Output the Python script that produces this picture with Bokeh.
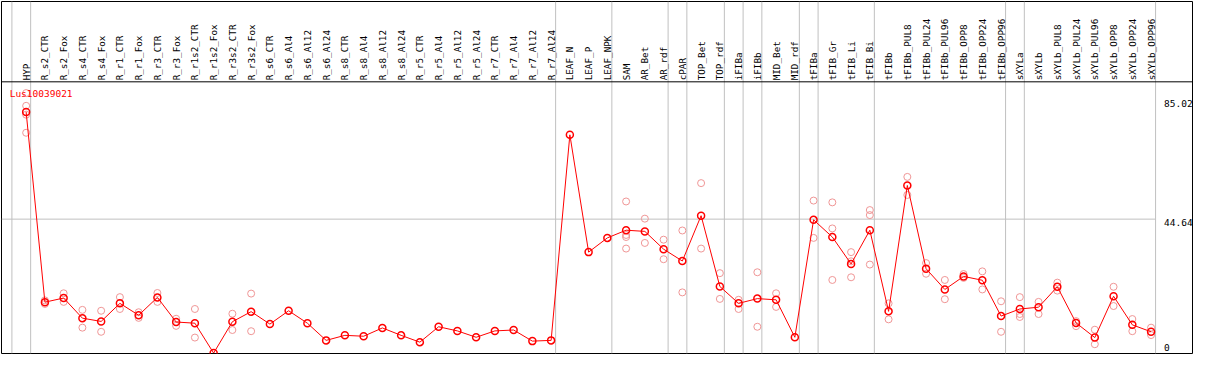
import math
from bokeh.plotting import figure
from bokeh.models import Range1d, Span
from bokeh.core.properties import value
from bokeh.embed import file_html
from bokeh.resources import INLINE

# ---------------- data ----------------
gene = "Lus10039021"

categories = [
    "HYP", "R_s2_CTR", "R_s2_Fox", "R_s4_CTR", "R_s4_Fox", "R_r1_CTR", "R_r1_Fox",
    "R_r3_CTR", "R_r3_Fox", "R_r1s2_CTR", "R_r1s2_Fox", "R_r3s2_CTR", "R_r3s2_Fox",
    "R_s6_CTR", "R_s6_Al4", "R_s6_Al12", "R_s6_Al24", "R_s8_CTR", "R_s8_Al4",
    "R_s8_Al12", "R_s8_Al24", "R_r5_CTR", "R_r5_Al4", "R_r5_Al12", "R_r5_Al24",
    "R_r7_CTR", "R_r7_Al4", "R_r7_Al12", "R_r7_Al24", "LEAF_N", "LEAF_P", "LEAF_NPK",
    "SAM", "AR_Bet", "AR_rdf", "cPAR", "TOP_Bet", "TOP_rdf", "iFIBa", "iFIBb",
    "MID_Bet", "MID_rdf", "tFIBa", "tFIB_Gr", "tFIB_Li", "tFIB_Bi", "tFIBb",
    "tFIBb_PUL8", "tFIBb_PUL24", "tFIBb_PUL96", "tFIBb_OPP8", "tFIBb_OPP24",
    "tFIBb_OPP96", "sXYLa", "sXYLb", "sXYLb_PUL8", "sXYLb_PUL24", "sXYLb_PUL96",
    "sXYLb_OPP8", "sXYLb_OPP24", "sXYLb_OPP96",
]

# number of consecutive categories in each tissue group (separated by grey lines)
group_sizes = [1, 28, 3, 3, 1, 2, 1, 1, 2, 1, 3, 7, 1, 7]

means = [
    80.8, 16.6, 18.0, 11.2, 10.1, 16.2, 12.2, 18.2, 9.9, 9.5, -0.6, 10.0, 13.4,
    9.2, 13.7, 9.5, 3.7, 5.4, 5.1, 7.9, 5.4, 3.1, 8.3, 6.9, 4.75, 6.9, 7.2, 3.45, 3.7,
    73.1, 33.5, 38.3, 40.9, 40.5, 34.5, 30.5, 45.8, 21.9, 16.2, 17.8, 17.4, 4.75,
    44.4, 38.6, 29.5, 40.9, 13.5, 56.0, 27.9, 20.9, 25.3, 24.0, 11.9,
    14.3, 14.9, 21.8, 9.6, 4.65, 18.6, 8.95, 6.6,
]

replicates = [
    [87.2, 82.9, 79.9, 73.8], [17.2, 16.0], [19.6, 16.7], [14.0, 8.0], [13.7, 6.6],
    [18.3, 14.3], [13.2, 11.3], [19.7, 16.7], [11.0, 8.6], [14.3, 4.65], [],
    [12.7, 7.2], [19.5, 6.8],
    [], [], [], [], [], [], [], [], [], [], [], [], [], [], [], [],
    [], [], [],
    [50.6, 39.3, 38.6, 34.7], [44.8, 36.6], [37.7, 31.1], [40.8, 19.9],
    [56.8, 34.7], [26.4, 17.7], [17.4, 14.3], [26.7, 8.3], [19.6, 15.0], [],
    [50.9, 38.3], [50.3, 41.5, 24.1], [33.5, 30.4, 25.0], [47.7, 46.0, 29.3],
    [16.2, 10.8], [58.9, 52.8], [29.8, 26.2], [24.1, 17.6], [26.1, 24.8],
    [27.0, 20.9], [16.9, 6.6], [18.3, 12.6, 11.6], [16.7, 12.6], [23.2, 20.5],
    [10.2, 8.5], [7.3, 2.4], [21.8, 15.3], [10.9, 6.8], [8.0, 5.5],
]

y_ticks = [0, 44.64, 85.02]
y_tick_labels = ["0", "44.64", "85.02"]

# ---------------- style ----------------
FONT = "DejaVu Sans Mono"
RED = "#ff0000"
PALE = "#f09696"
GREY = "#c0c0c0"

n = len(categories)
idx = list(range(n))

p = figure(width=1193, height=354, output_backend="svg", toolbar_location=None,
           x_axis_location=None, y_axis_location=None, title=None,
           x_range=Range1d(-1.315, 62.21), y_range=Range1d(-0.73, 118.12),
           min_border_left=1, min_border_right=1, min_border_top=1, min_border_bottom=1)
p.grid.visible = False
p.background_fill_color = "white"
p.border_fill_color = "white"
p.outline_line_color = "black"
p.outline_line_width = 1
p.outline_line_alpha = 1.0

# group separator lines (full height, through header)
sep = 0.24
bounds = [0]
for g in group_sizes:
    bounds.append(bounds[-1] + g)
sep_x = [b - 1 + sep for b in bounds]
for sx in sep_x:
    p.add_layout(Span(location=sx, dimension="height", line_color=GREY,
                      line_width=1, level="underlay"))
right_edge = sep_x[-1]

# horizontal grid line for interior ticks
inner = [t for t in y_ticks if y_ticks[0] < t < y_ticks[-1]]
p.segment(x0=[p.x_range.start] * len(inner), y0=inner,
          x1=[right_edge] * len(inner), y1=inner,
          line_color=GREY, line_width=1, level="underlay")

# header separator line
header_y = 91.0
p.add_layout(Span(location=header_y, dimension="width", line_color="black", line_width=1))

# category labels (vertical, in header)
p.text(x=idx, y=[header_y + 0.5] * n, text=categories, angle=math.pi / 2,
       text_align="left", text_baseline="middle", text_font=value(FONT),
       text_font_size="9.3px", text_color="black")

# replicate points
rx = [i for i, r in enumerate(replicates) for _ in r]
ry = [v for r in replicates for v in r]
p.scatter(rx, ry, marker="circle", size=7, fill_color=None,
          line_color=PALE, line_width=1)

# mean profile
p.line(idx, means, line_color=RED, line_width=1)
p.scatter(idx, means, marker="circle", size=7, fill_color=None,
          line_color=RED, line_width=1.5)

# y tick labels (inside right margin)
lab_x = right_edge + 0.45
p.text(x=[lab_x] * (len(y_ticks) - 1), y=y_ticks[1:], text=y_tick_labels[1:],
       text_align="left", text_baseline="top", text_font=value(FONT),
       text_font_size="9.5px", text_color="black")
p.text(x=[lab_x], y=y_ticks[:1], text=y_tick_labels[:1],
       text_align="left", text_baseline="bottom", text_font=value(FONT),
       text_font_size="9.5px", text_color="black")

# gene name
p.text(x=[-0.879], y=[88.9], text=[gene], text_align="left", text_baseline="top",
       text_font=value(FONT), text_font_size="9.5px", text_color=RED)

open("out.html", "w").write(file_html(p, INLINE))
